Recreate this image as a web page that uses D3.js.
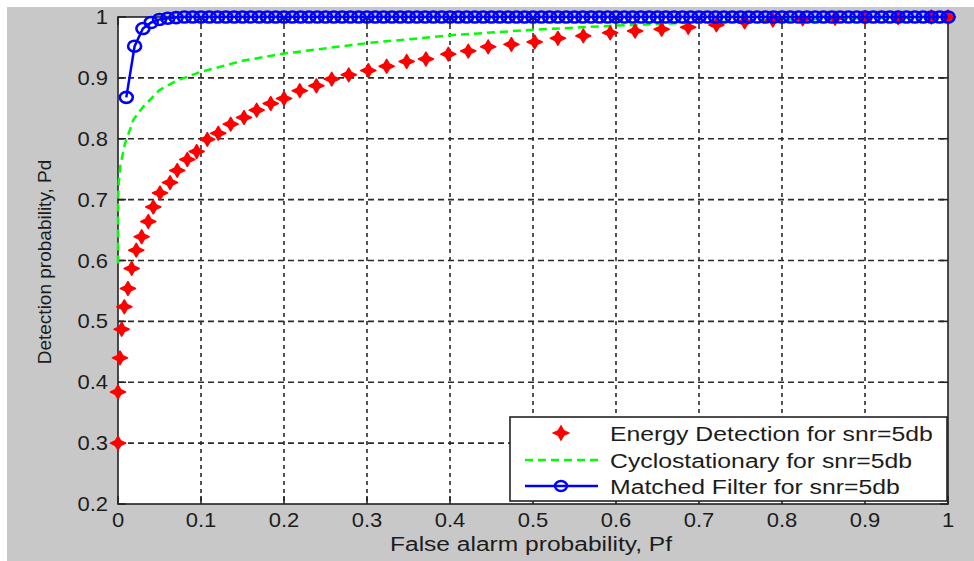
<!DOCTYPE html>
<html>
<head>
<meta charset="utf-8">
<script src="https://cdn.jsdelivr.net/npm/d3@7"></script>
<style>
  body { margin: 0; background: #fff; }
  text { font-family: "Liberation Sans", Arial, sans-serif; fill: #1c1c1c; }
</style>
</head>
<body>
<svg id="chart" width="974" height="561"></svg>
<script>
// Energy detection (red stars)
const pfEnergy = [0, 0, 0.0024, 0.0044, 0.0076, 0.012, 0.0165, 0.022, 0.0285, 0.0365,
    0.0425, 0.0506, 0.0627, 0.0714, 0.0835, 0.0948, 0.1076, 0.1208, 0.1358, 0.1518,
    0.1671, 0.184, 0.2, 0.219, 0.239, 0.2575, 0.278, 0.3016, 0.3237, 0.3478,
    0.371, 0.398, 0.422, 0.446, 0.474, 0.502, 0.53, 0.5606, 0.593, 0.623,
    0.655, 0.687, 0.721, 0.755, 0.789, 0.825, 0.864, 0.9, 0.94, 0.98, 1.0];
const pdEnergy = [0.3, 0.384, 0.44, 0.487, 0.524, 0.554, 0.587, 0.617, 0.639, 0.664,
    0.688, 0.711, 0.728, 0.748, 0.766, 0.779, 0.799, 0.809, 0.824, 0.835,
    0.847, 0.858, 0.866, 0.879, 0.887, 0.898, 0.905, 0.912, 0.919, 0.927,
    0.931, 0.939, 0.944, 0.951, 0.955, 0.959, 0.965, 0.969, 0.974, 0.977,
    0.98, 0.983, 0.987, 0.992, 0.995, 0.997, 0.998, 0.999, 0.999, 1.0, 1.0];

// Cyclostationary (green dashed)
const pfCyclo = [0, 0, 0.001, 0.003, 0.0084, 0.0185, 0.0305, 0.05, 0.07, 0.1,
    0.15, 0.2, 0.3, 0.4, 0.5, 0.6, 0.7, 0.8, 0.9, 1.0];
const pdCyclo = [0.595, 0.7, 0.73, 0.757, 0.792, 0.831, 0.853, 0.88, 0.895, 0.91,
    0.928, 0.94, 0.957, 0.97, 0.979, 0.986, 0.991, 0.995, 0.998, 1.0];

// Matched filter (blue, circles)
const pfMatched = [0.01, 0.02, 0.03, 0.04, 0.05, 0.06, 0.07, 0.08, 0.09, 0.1,
    0.11, 0.12, 0.13, 0.14, 0.15, 0.16, 0.17, 0.18, 0.19, 0.2,
    0.21, 0.22, 0.23, 0.24, 0.25, 0.26, 0.27, 0.28, 0.29, 0.3,
    0.31, 0.32, 0.33, 0.34, 0.35, 0.36, 0.37, 0.38, 0.39, 0.4,
    0.41, 0.42, 0.43, 0.44, 0.45, 0.46, 0.47, 0.48, 0.49, 0.5,
    0.51, 0.52, 0.53, 0.54, 0.55, 0.56, 0.57, 0.58, 0.59, 0.6,
    0.61, 0.62, 0.63, 0.64, 0.65, 0.66, 0.67, 0.68, 0.69, 0.7,
    0.71, 0.72, 0.73, 0.74, 0.75, 0.76, 0.77, 0.78, 0.79, 0.8,
    0.81, 0.82, 0.83, 0.84, 0.85, 0.86, 0.87, 0.88, 0.89, 0.9,
    0.91, 0.92, 0.93, 0.94, 0.95, 0.96, 0.97, 0.98, 0.99, 1.0];
const pdMatched = [0.868, 0.952, 0.981, 0.991, 0.996, 0.998, 0.999, 1, 1, 1,
    1, 1, 1, 1, 1, 1, 1, 1, 1, 1,
    1, 1, 1, 1, 1, 1, 1, 1, 1, 1,
    1, 1, 1, 1, 1, 1, 1, 1, 1, 1,
    1, 1, 1, 1, 1, 1, 1, 1, 1, 1,
    1, 1, 1, 1, 1, 1, 1, 1, 1, 1,
    1, 1, 1, 1, 1, 1, 1, 1, 1, 1,
    1, 1, 1, 1, 1, 1, 1, 1, 1, 1,
    1, 1, 1, 1, 1, 1, 1, 1, 1, 1,
    1, 1, 1, 1, 1, 1, 1, 1, 1, 1];

const xTicks = [0, 0.1, 0.2, 0.3, 0.4, 0.5, 0.6, 0.7, 0.8, 0.9, 1];
const yTicks = [0.2, 0.3, 0.4, 0.5, 0.6, 0.7, 0.8, 0.9, 1];
const legendLabels = ["Energy Detection for snr=5db", "Cyclostationary for snr=5db", "Matched Filter for snr=5db"];

const svg = d3.select("#chart");
const x = d3.scaleLinear().domain([0, 1]).range([118, 948]);
const y = d3.scaleLinear().domain([0.2, 1]).range([504, 17]);

// figure background
svg.append("rect").attr("x", 7).attr("y", 7).attr("width", 967).attr("height", 554).attr("fill", "#c8c8c8");
svg.append("rect").attr("x", x(0)).attr("y", y(1)).attr("width", x(1) - x(0)).attr("height", y(0.2) - y(1)).attr("fill", "#fff");

// text with the horizontal stretch of the original screenshot
function label(g, str, tx, ty, size, sx, anchor) {
    return g.append("text")
        .attr("transform", "translate(" + tx + "," + ty + ") scale(" + sx + ",1)")
        .attr("font-size", size)
        .attr("text-anchor", anchor)
        .text(str);
}

// grid
const grid = svg.append("g");
grid.selectAll("line.vg").data(xTicks.slice(1, -1)).enter().append("line")
    .attr("x1", d => x(d)).attr("x2", d => x(d)).attr("y1", y(1)).attr("y2", y(0.2))
    .attr("stroke", "#2a2a2a").attr("stroke-width", 1.6).attr("stroke-dasharray", "4,4");
grid.selectAll("line.hg").data(yTicks.slice(1, -1)).enter().append("line")
    .attr("x1", x(0)).attr("x2", x(1)).attr("y1", d => y(d)).attr("y2", d => y(d))
    .attr("stroke", "#2a2a2a").attr("stroke-width", 1.6).attr("stroke-dasharray", "6,4");

// axes box and ticks
const axes = svg.append("g");
axes.append("rect").attr("x", x(0)).attr("y", y(1)).attr("width", x(1) - x(0)).attr("height", y(0.2) - y(1))
    .attr("fill", "none").attr("stroke", "#222").attr("stroke-width", 1.6);
axes.selectAll("line.xt").data(xTicks).enter().append("line")
    .attr("x1", d => x(d)).attr("x2", d => x(d)).attr("y1", y(0.2)).attr("y2", y(0.2) - 8)
    .attr("stroke", "#222").attr("stroke-width", 1.6);
axes.selectAll("line.xt2").data(xTicks).enter().append("line")
    .attr("x1", d => x(d)).attr("x2", d => x(d)).attr("y1", y(1)).attr("y2", y(1) + 8)
    .attr("stroke", "#222").attr("stroke-width", 1.6);
axes.selectAll("line.yt").data(yTicks).enter().append("line")
    .attr("x1", x(0)).attr("x2", x(0) + 8).attr("y1", d => y(d)).attr("y2", d => y(d))
    .attr("stroke", "#222").attr("stroke-width", 1.6);
axes.selectAll("line.yt2").data(yTicks).enter().append("line")
    .attr("x1", x(1)).attr("x2", x(1) - 8).attr("y1", d => y(d)).attr("y2", d => y(d))
    .attr("stroke", "#222").attr("stroke-width", 1.6);

xTicks.forEach(t => label(axes, String(t), x(t), 527, 20, 1.1, "middle"));
yTicks.forEach(t => label(axes, String(t), 108, y(t) + 7, 20, 1.1, "end"));

label(axes, "False alarm probability, Pf", 531, 551, 21, 1.17, "middle");
axes.append("text")
    .attr("transform", "translate(51,262) rotate(-90)")
    .attr("font-size", 19)
    .attr("text-anchor", "middle")
    .text("Detection probability, Pd");

// series
const starPath = "M-7.5,0 L-2.6,-2.3 L0,-6.8 L2.6,-2.3 L7.5,0 L2.6,2.3 L0,6.8 L-2.6,2.3 Z";

const line = d3.line().x(d => x(d[0])).y(d => y(d[1]));
svg.append("path")
    .attr("d", line(d3.zip(pfCyclo, pdCyclo)))
    .attr("fill", "none").attr("stroke", "#00ff00").attr("stroke-width", 2.5)
    .attr("stroke-dasharray", "8,5");

svg.append("g").selectAll("path").data(d3.zip(pfEnergy, pdEnergy)).enter().append("path")
    .attr("d", starPath)
    .attr("transform", d => "translate(" + x(d[0]) + "," + y(d[1]) + ")")
    .attr("fill", "#ff0000").attr("stroke", "#ff0000").attr("stroke-width", 1.6)
    .attr("stroke-linejoin", "round");

const matched = d3.zip(pfMatched, pdMatched);
svg.append("path")
    .attr("d", line(matched))
    .attr("fill", "none").attr("stroke", "#0000ff").attr("stroke-width", 2.5);
svg.append("g").selectAll("ellipse").data(matched).enter().append("ellipse")
    .attr("cx", d => x(d[0])).attr("cy", d => y(d[1]))
    .attr("rx", 6.5).attr("ry", 5.5)
    .attr("fill", "none").attr("stroke", "#0000ff").attr("stroke-width", 2.6);

// legend
const legend = svg.append("g");
legend.append("rect").attr("x", 510).attr("y", 417).attr("width", 437).attr("height", 84)
    .attr("fill", "#fff").attr("stroke", "#222").attr("stroke-width", 1.6);
const rowY = [433, 460, 486];
legend.append("path").attr("d", starPath)
    .attr("transform", "translate(561," + rowY[0] + ")")
    .attr("fill", "#ff0000").attr("stroke", "#ff0000").attr("stroke-width", 1.6);
legend.append("line").attr("x1", 525).attr("x2", 598).attr("y1", rowY[1]).attr("y2", rowY[1])
    .attr("stroke", "#00ff00").attr("stroke-width", 2.5).attr("stroke-dasharray", "8,5");
legend.append("line").attr("x1", 525).attr("x2", 598).attr("y1", rowY[2]).attr("y2", rowY[2])
    .attr("stroke", "#0000ff").attr("stroke-width", 2.5);
legend.append("ellipse").attr("cx", 561).attr("cy", rowY[2]).attr("rx", 6).attr("ry", 5)
    .attr("fill", "none").attr("stroke", "#0000ff").attr("stroke-width", 2.4);
legendLabels.forEach((s, i) => label(legend, s, 610, rowY[i] + 7.5, 21, 1.18, "start"));
</script>
</body>
</html>
